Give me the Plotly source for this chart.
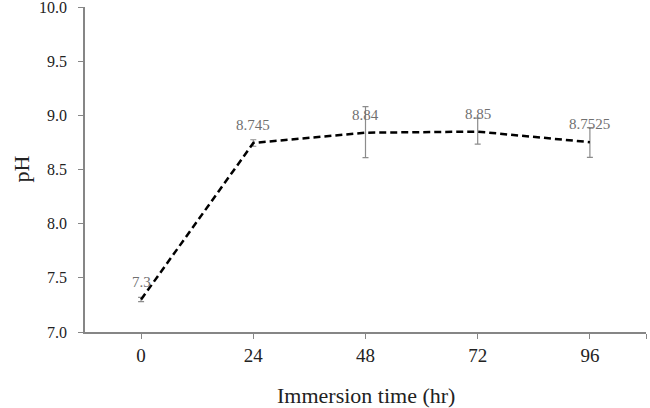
import plotly.graph_objects as go

time_hr = [0, 24, 48, 72, 96]
ph_mean = [7.3, 8.745, 8.84, 8.85, 8.7525]
ph_err_plus = [0.02, 0.03, 0.24, 0.125, 0.135]
ph_err_minus = [0.02, 0.03, 0.23, 0.115, 0.14]
x_ticks = [0, 24, 48, 72, 96, 108]
x_ticktext = ["0", "24", "48", "72", "96", ""]
y_ticks = [7.0, 7.5, 8.0, 8.5, 9.0, 9.5, 10.0]
x_title = "Immersion time (hr)"
y_title = "pH"

font_family = "Liberation Serif"

fig = go.Figure()
fig.add_trace(go.Scatter(
    x=time_hr, y=ph_mean,
    mode="lines",
    line=dict(color="black", width=2.5, dash="7px,4px"),
    error_y=dict(type="data", symmetric=False, array=ph_err_plus, arrayminus=ph_err_minus,
                 color="#8c8c8c", thickness=1.2, width=3),
    showlegend=False,
    cliponaxis=False,
))

for xv, yv in zip(time_hr, ph_mean):
    fig.add_annotation(x=xv, y=yv, text=str(yv), showarrow=False,
                       yanchor="bottom", yshift=8,
                       font=dict(family=font_family, size=15, color="#707070"))

fig.add_annotation(xref="paper", yref="paper", x=0, y=0.5, xshift=-64,
                   text=y_title, textangle=-90, showarrow=False,
                   xanchor="center", yanchor="middle",
                   font=dict(family=font_family, size=22, color="#222222"))
fig.add_annotation(xref="paper", yref="paper", x=0.5, y=0, yshift=-63,
                   text=x_title, showarrow=False,
                   xanchor="center", yanchor="middle",
                   font=dict(family=font_family, size=22, color="#222222"))

fig.update_layout(
    width=650, height=408,
    margin=dict(l=85, r=4, t=7, b=76),
    paper_bgcolor="white", plot_bgcolor="white",
    font=dict(family=font_family, color="#222222"),
    xaxis=dict(
        range=[-12, 108], automargin=False,
        tickvals=x_ticks, ticktext=x_ticktext,
        ticks="outside", ticklen=5, tickcolor="#868686", tickwidth=1.2,
        showline=True, linecolor="#868686", linewidth=1.5,
        showgrid=False, zeroline=False,
        tickfont=dict(family=font_family, size=19, color="#222222"),
    ),
    yaxis=dict(
        range=[7.0, 10.0005], automargin=False,
        tickvals=y_ticks, tickformat=".1f",
        ticks="outside", ticklen=5, tickcolor="#868686", tickwidth=1.2,
        showline=True, linecolor="#868686", linewidth=1.5,
        showgrid=False, zeroline=False,
        ticklabeloverflow="allow", ticklabelstandoff=8,
        tickfont=dict(family=font_family, size=16, color="#222222"),
    ),
)

fig.write_html("out.html", post_script="document.body.style.margin='0';",
               config={"displayModeBar": False})
